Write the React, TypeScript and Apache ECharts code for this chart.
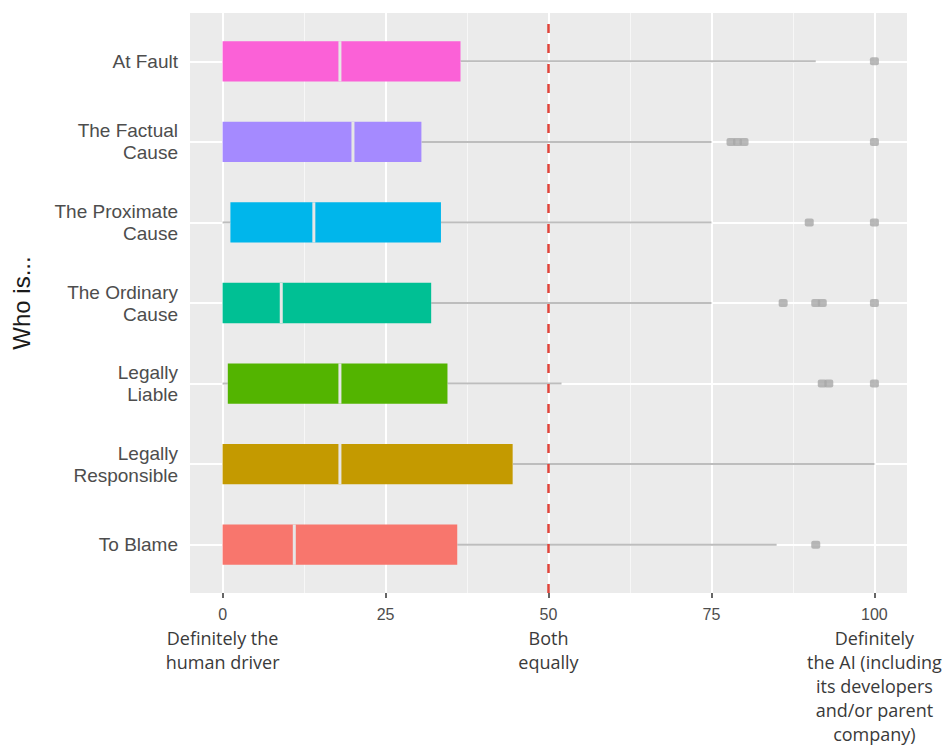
import React, { useEffect, useRef } from 'react';
import * as echarts from 'echarts';

// Categories bottom (1) to top (7)
const categories = [
  'To Blame',
  'Legally\nResponsible',
  'Legally\nLiable',
  'The Ordinary\nCause',
  'The Proximate\nCause',
  'The Factual\nCause',
  'At Fault',
];
const boxColors = ['#F8766D', '#C49A00', '#53B400', '#00C094', '#00B6EB', '#A58AFF', '#FB61D7'];
// [min, q1, median, q3, max(whisker end)]
const boxStats = [
  [0, 0, 11, 36, 85],
  [0, 0, 18, 44.5, 100],
  [0, 0.8, 18, 34.5, 52],
  [0, 0, 9, 32, 75],
  [0, 1.2, 14, 33.5, 75],
  [0, 0, 20, 30.5, 75],
  [0, 0, 18, 36.5, 91],
];
const outlierValues = [
  [91],
  [],
  [92, 93, 100],
  [86, 91, 92, 100],
  [90, 100],
  [78, 79, 80, 100],
  [100],
];
const xTicks = [0, 25, 50, 75, 100];
const xMinorGrid = [12.5, 37.5, 62.5, 87.5];
const yTicks = [1, 2, 3, 4, 5, 6, 7];
const xDescriptions: Record<number, string[]> = {
  0: ['Definitely the', 'human driver'],
  50: ['Both', 'equally'],
  100: ['Definitely', 'the AI (including', 'its developers', 'and/or parent', 'company)'],
};
const referenceValue = 50;
const yTitle = 'Who is...';

export default function App() {
  const ref = useRef<HTMLDivElement>(null);
  useEffect(() => {
    document.body.style.margin = '0';
    if (!ref.current) return;
    const chart = echarts.init(ref.current, null, { renderer: 'svg' });

    const boxData = boxStats.map((s, i) => [i + 1, ...s]);
    const outlierData: number[][] = [];
    outlierValues.forEach((arr, i) => arr.forEach((v) => outlierData.push([v, i + 1])));

    const gridLines = [
      ...xTicks.map((v) => ({ xAxis: v, lineStyle: { color: '#FFFFFF', width: 2, type: 'solid' } })),
      ...xMinorGrid.map((v) => ({ xAxis: v, lineStyle: { color: '#F7F7F7', width: 1, type: 'solid' } })),
      ...yTicks.map((v) => ({ yAxis: v, lineStyle: { color: '#FFFFFF', width: 2, type: 'solid' } })),
    ];

    const option: any = {
      animation: false,
      grid: {
        left: 190,
        top: 13,
        right: 42,
        bottom: 162,
        show: true,
        backgroundColor: '#EBEBEB',
        borderWidth: 0,
      },
      xAxis: {
        type: 'value',
        min: -5,
        max: 105,
        axisLine: { show: false },
        splitLine: { show: false },
        axisTick: { show: true, customValues: xTicks, length: 5, lineStyle: { color: '#333333', width: 1.5 } },
        axisLabel: {
          customValues: xTicks,
          margin: 9,
          formatter: (v: number) => {
            let s = `{n|${v}}`;
            const d = xDescriptions[v];
            if (d) s += '\n' + d.map((l) => `{d|${l}}`).join('\n');
            return s;
          },
          rich: {
            n: { fontFamily: 'Liberation Sans', fontSize: 16, color: '#4D4D4D', lineHeight: 24, align: 'center' },
            d: { fontFamily: 'Open Sans', fontSize: 18, color: '#3A3A3A', lineHeight: 24, align: 'center' },
          },
        },
      },
      yAxis: {
        type: 'value',
        min: 0.4,
        max: 7.6,
        name: yTitle,
        nameLocation: 'middle',
        nameRotate: 90,
        nameGap: 157,
        nameTextStyle: { fontFamily: 'Liberation Sans', fontSize: 24, color: '#1A1A1A' },
        axisLine: { show: false },
        splitLine: { show: false },
        axisTick: { show: true, customValues: yTicks, length: 5, lineStyle: { color: '#333333', width: 1.5 } },
        axisLabel: {
          customValues: yTicks,
          margin: 12,
          formatter: (v: number) => categories[Math.round(v) - 1] ?? '',
          fontFamily: 'Liberation Sans',
          fontSize: 19,
          lineHeight: 22,
          color: '#4D4D4D',
          align: 'right',
        },
      },
      series: [
        {
          type: 'line',
          data: [],
          z: 1,
          silent: true,
          markLine: {
            z: 1,
            silent: true,
            symbol: ['none', 'none'],
            label: { show: false },
            data: gridLines,
          },
        },
        {
          type: 'custom',
          z: 3,
          data: boxData,
          encode: { x: [1, 2, 3, 4, 5], y: 0 },
          renderItem: (params: any, api: any) => {
            const y = api.value(0);
            const mn = api.coord([api.value(1), y]);
            const q1 = api.coord([api.value(2), y]);
            const md = api.coord([api.value(3), y]);
            const q3 = api.coord([api.value(4), y]);
            const mx = api.coord([api.value(5), y]);
            const h = api.size([0, 0.5])[1];
            const c = q1[1];
            const whisker = { stroke: '#BDBDBD', lineWidth: 2 };
            return {
              type: 'group',
              children: [
                { type: 'line', shape: { x1: mn[0], y1: c, x2: q1[0], y2: c }, style: whisker },
                { type: 'line', shape: { x1: q3[0], y1: c, x2: mx[0], y2: c }, style: whisker },
                {
                  type: 'rect',
                  shape: { x: q1[0], y: c - h / 2, width: q3[0] - q1[0], height: h },
                  style: { fill: boxColors[params.dataIndex] },
                },
                {
                  type: 'line',
                  shape: { x1: md[0], y1: c - h / 2, x2: md[0], y2: c + h / 2 },
                  style: { stroke: '#E6E6E6', lineWidth: 3 },
                },
              ],
            };
          },
        },
        {
          type: 'scatter',
          z: 4,
          data: outlierData,
          symbol: 'roundRect',
          symbolSize: [9, 8],
          itemStyle: { color: '#A8A8A8' },
          silent: true,
        },
        {
          type: 'line',
          data: [],
          z: 6,
          silent: true,
          markLine: {
            z: 6,
            silent: true,
            symbol: ['none', 'none'],
            label: { show: false },
            data: [{ xAxis: referenceValue }],
            lineStyle: { color: '#E0453B', width: 2.5, type: [9, 11] },
          },
        },
      ],
    };
    chart.setOption(option);
    return () => chart.dispose();
  }, []);
  return <div ref={ref} style={{ width: 949, height: 755 }} />;
}
